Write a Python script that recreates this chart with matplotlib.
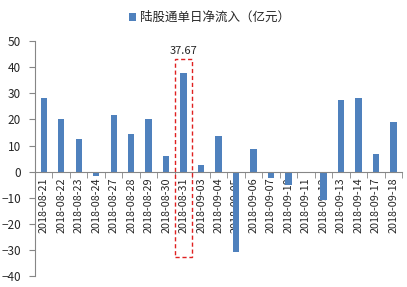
import matplotlib.pyplot as plt
import numpy as np
from matplotlib.patches import Rectangle

plt.rcParams['font.family'] = ['Noto Sans CJK SC', 'DejaVu Sans']

dates = ["2018-08-21", "2018-08-22", "2018-08-23", "2018-08-24", "2018-08-27",
         "2018-08-28", "2018-08-29", "2018-08-30", "2018-08-31", "2018-09-03",
         "2018-09-04", "2018-09-05", "2018-09-06", "2018-09-07", "2018-09-10",
         "2018-09-11", "2018-09-12", "2018-09-13", "2018-09-14", "2018-09-17",
         "2018-09-18"]
net_inflow = [28.2, 20.3, 12.6, -1.6, 21.8, 14.5, 20.3, 5.9, 37.67, 2.6,
              13.6, -30.8, 8.6, -2.4, -5.3, -0.5, -11.0, 27.3, 28.0, 6.6, 18.9]
series_name = "陆股通单日净流入（亿元）"
highlight = "2018-08-31"

blue = "#4F81BD"
grey = "#868686"
txt = "#262626"

fig = plt.figure(figsize=(4.07, 2.87), dpi=100)
ax = fig.add_axes([0.086, 0.038, 0.902, 0.819])

x = np.arange(len(dates))
ax.bar(x, net_inflow, width=0.36, color=blue, label=series_name, zorder=2)

ax.set_xlim(-0.5, len(dates) - 0.5)
ax.set_ylim(-40, 50)
ax.set_yticks(range(-40, 51, 10))

for s in ("top", "right"):
    ax.spines[s].set_visible(False)
ax.spines["bottom"].set_position(("data", 0))
ax.spines["left"].set_color(grey)
ax.spines["bottom"].set_color(grey)

# category labels at centres, tick marks between categories
ax.set_xticks(x)
ax.set_xticklabels(dates, rotation=90, fontsize=7.8, color=txt)
ax.tick_params(axis="x", which="major", length=0, pad=4)
ax.set_xticks(np.arange(-0.5, len(dates)), minor=True)
ax.tick_params(axis="x", which="minor", length=4, color=grey, direction="out")
ax.tick_params(axis="y", length=4, color=grey, labelsize=8.5, labelcolor=txt, pad=6)

# value label and dashed box on the highlighted day
i = dates.index(highlight)
v = net_inflow[i]
ax.add_patch(Rectangle((i - 0.5, -32.5), 1.0, 43.3 + 32.5, fill=False,
                       edgecolor="#E02020", linestyle=(0, (3, 2)), linewidth=1.0,
                       zorder=3, clip_on=False))
ax.text(i, 44.2, f"{v:.2f}", ha="center", va="bottom", fontsize=8, color=txt)

fig.legend(loc="upper center", bbox_to_anchor=(0.515, 1.0), frameon=False,
           fontsize=9, handlelength=0.6, handleheight=0.6, handletextpad=0.3,
           labelcolor=txt)

fig.savefig("out.png", dpi=100)
